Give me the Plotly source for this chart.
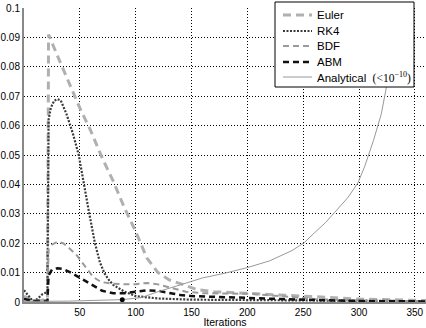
import plotly.graph_objects as go

# ---- data ----
euler_x = [0, 5, 10, 15, 21, 22, 30, 40, 50, 60, 70, 80, 90, 100, 105, 110, 120, 130, 142, 155, 170, 200, 250, 300, 360]
euler_y = [0.002, 0.001, 0.0005, 0.0005, 0.001, 0.091, 0.0837, 0.075, 0.066, 0.058, 0.049, 0.041, 0.032, 0.024, 0.0195, 0.015, 0.010, 0.0075, 0.006, 0.0042, 0.0035, 0.003, 0.002, 0.001, 0.0005]

rk4_x = [0, 4, 8, 12, 16, 21, 22, 24, 27, 30, 33, 38, 44, 49, 53.5, 58, 63.5, 68, 72, 76, 80, 90, 100, 120, 150, 200, 300, 360]
rk4_y = [0.004, 0.002, 0.0003, 0.001, 0.0025, 0.0035, 0.062, 0.066, 0.0685, 0.069, 0.0685, 0.064, 0.057, 0.05, 0.04, 0.031, 0.02, 0.0135, 0.0098, 0.0075, 0.0058, 0.0035, 0.002, 0.0012, 0.0008, 0.0006, 0.0004, 0.0003]

bdf_x = [0, 10, 21, 22, 25, 30, 35, 40, 47, 55, 62, 69, 80, 90, 100, 110, 120, 130, 145, 160, 200, 230, 260, 300, 360]
bdf_y = [0.001, 0.0005, 0.0005, 0.018, 0.0195, 0.0205, 0.02, 0.0185, 0.016, 0.012, 0.0085, 0.0068, 0.0062, 0.006, 0.006, 0.0065, 0.006, 0.005, 0.0035, 0.003, 0.0028, 0.002, 0.001, 0.0005, 0.0003]

abm_x = [0, 10, 21, 22, 25, 30, 35, 42, 53, 63, 70, 80, 90, 100, 110, 120, 130, 140, 150, 175, 200, 230, 260, 300, 360]
abm_y = [0.001, 0.0003, 0.0003, 0.009, 0.011, 0.0115, 0.0112, 0.01, 0.0076, 0.0053, 0.0038, 0.003, 0.003, 0.0035, 0.004, 0.0038, 0.003, 0.0024, 0.002, 0.0016, 0.0014, 0.001, 0.0006, 0.0003, 0.0002]

ana_x = [0, 40, 88, 105, 120, 140, 150, 160, 180, 200, 220, 240, 251, 260, 270, 278, 290, 299, 305, 313, 320, 324, 330, 340]
ana_y = [0.0002, 0.0003, 0.0008, 0.0015, 0.0035, 0.006, 0.007, 0.0082, 0.0098, 0.0117, 0.014, 0.0175, 0.0202, 0.0235, 0.027, 0.0304, 0.0355, 0.0405, 0.046, 0.055, 0.064, 0.072, 0.085, 0.11]

dot_x = [88]
dot_y = [0.0008]

x_ticks = [50, 100, 150, 200, 250, 300, 350]

series_names = ["Euler", "RK4", "BDF", "ABM",
                'Analytical  <span style="font-family:Liberation Serif">(&lt;10<sup>−10</sup>)</span>']
series_styles = [
    dict(color="#b0b0b0", width=3, dash="8px,5px"),
    dict(color="#3a3a3a", width=2.2, dash="2px,1.5px"),
    dict(color="#9a9a9a", width=2, dash="6px,4px"),
    dict(color="#111111", width=2.5, dash="6px,4px"),
    dict(color="#999999", width=1),
]
series_x = [euler_x, rk4_x, bdf_x, abm_x, ana_x]
series_y = [euler_y, rk4_y, bdf_y, abm_y, ana_y]

fig = go.Figure()
for nm, st, xs, ys in zip(series_names, series_styles, series_x, series_y):
    fig.add_trace(go.Scatter(x=xs, y=ys, mode="lines", name=nm, line=st, showlegend=False))
fig.add_trace(go.Scatter(x=dot_x, y=dot_y, mode="markers", showlegend=False,
                         marker=dict(color="black", size=5)))

# plot-area geometry (pixels) used for the hand-drawn legend box
L, T, W, H = 24, 8, 402, 294
def px(xp):
    return (xp - L) / W
def py(yp):
    return (T + H - yp) / H

shapes = [dict(type="rect", xref="paper", yref="paper",
               x0=px(275), x1=px(414), y0=py(87), y1=py(2),
               fillcolor="white", line=dict(color="black", width=1), layer="above")]
annotations = []
rows = [15, 31, 46, 62, 77]
for nm, st, r in zip(series_names, series_styles, rows):
    shapes.append(dict(type="line", xref="paper", yref="paper",
                       x0=px(283), x1=px(312), y0=py(r), y1=py(r),
                       line=st, layer="above"))
    annotations.append(dict(xref="paper", yref="paper", x=px(315), y=py(r),
                            xanchor="left", yanchor="middle", text=nm, showarrow=False,
                            font=dict(size=11.5, color="black")))

fig.update_layout(
    width=426, height=328,
    margin=dict(l=L, r=426 - L - W, t=T, b=328 - T - H),
    paper_bgcolor="white", plot_bgcolor="white",
    font=dict(family="Liberation Sans, Arial, sans-serif", size=10, color="black"),
    showlegend=False,
    shapes=shapes, annotations=annotations,
)
fig.update_xaxes(range=[0, 360], tickvals=x_ticks, showgrid=True, automargin=False,
                 gridcolor="black", griddash="1px,2px", gridwidth=1,
                 showline=True, linecolor="#888888", linewidth=2,
                 zeroline=False, ticks="",
                 title=dict(text="Iterations", standoff=0, font=dict(size=10.5)))
fig.update_yaxes(range=[0, 0.1], dtick=0.01, showgrid=True, automargin=False,
                 gridcolor="black", griddash="1px,2px", gridwidth=1,
                 showline=True, linecolor="#888888", linewidth=2,
                 zeroline=False, ticks="")

fig.write_html("out.html", config={"displayModeBar": False},
               post_script="document.body.style.margin='0px';document.body.style.overflow='hidden';")
